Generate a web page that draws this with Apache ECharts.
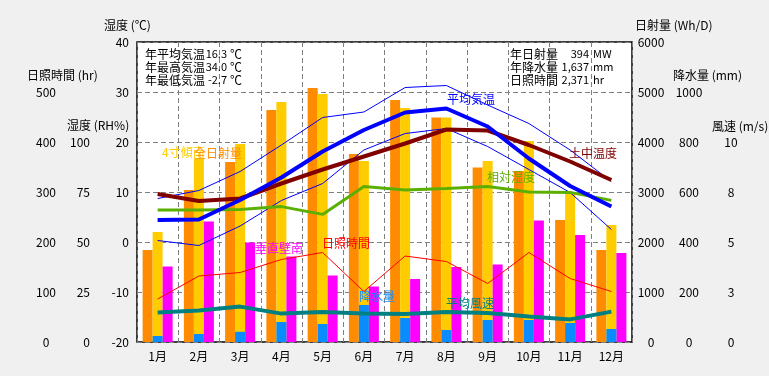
<!DOCTYPE html>
<html>
<head>
<meta charset="utf-8">
<script src="https://cdn.jsdelivr.net/npm/echarts@6/dist/echarts.min.js"></script>
<style>
  html, body { margin: 0; padding: 0; background: #f0f0f0; }
  #chart { width: 769px; height: 376px; }
</style>
</head>
<body>
<div id="chart"></div>
<script>
const months = ['1月', '2月', '3月', '4月', '5月', '6月', '7月', '8月', '9月', '10月', '11月', '12月'];

// Wh/D
const solarGlobal = [1840, 3040, 3600, 4640, 5080, 3760, 4840, 4490, 3490, 3420, 2440, 1840];
const solarTilt4 = [2200, 3670, 3960, 4800, 4960, 3620, 4680, 4490, 3620, 4020, 2990, 2340];
const solarWallSouth = [1510, 2410, 1990, 1710, 1330, 1110, 1260, 1500, 1550, 2430, 2140, 1780];
// mm
const precipitation = [24, 32, 41, 80, 72, 148, 96, 48, 88, 88, 76, 52];
// hr
const sunshineHours = [86, 132, 139, 165, 179, 101, 172, 161, 117, 179, 127, 101];
// m/s
const windSpeed = [1.48, 1.58, 1.77, 1.42, 1.5, 1.43, 1.4, 1.5, 1.45, 1.27, 1.13, 1.52];
// RH%
const humidity = [66, 66, 66.3, 67.7, 63.8, 77.7, 76, 76.7, 77.7, 75, 74.8, 70.8];
// ℃
const soilTemp = [9.6, 8.2, 8.7, 11.7, 14.5, 17.1, 19.7, 22.5, 22.3, 19.4, 16.1, 12.4];
const meanTemp = [4.4, 4.5, 8.4, 12.9, 18.1, 22.4, 25.9, 26.7, 23.1, 16.7, 11.2, 7.1];
const maxTemp = [8.7, 10.3, 14.1, 19.4, 24.9, 26.0, 30.9, 31.3, 27.4, 23.7, 18.4, 12.1];
const minTemp = [0.3, -0.7, 3.2, 8.3, 11.7, 18.4, 21.7, 22.7, 19.1, 14.5, 9.9, 2.5];

const FONT = '"Noto Sans CJK JP", "DejaVu Sans", sans-serif';

const chart = echarts.init(document.getElementById('chart'));

function yAx(opts) {
  return Object.assign({
    type: 'value',
    axisLine: { show: false },
    axisTick: { show: false },
    splitLine: { show: false },
  }, opts);
}
function lbl(extra) {
  return Object.assign({ color: '#000', fontSize: 12, fontFamily: FONT, showMinLabel: true, showMaxLabel: true }, extra);
}
function txt(text, x, y, color, align, size) {
  return {
    type: 'text', x: x, y: y, z: 100,
    style: { text: text, fill: color || '#000', font: (size || 12) + 'px ' + FONT, textAlign: align || 'left', textVerticalAlign: 'middle' },
  };
}
const upTo = max => v => v > max ? '' : String(v);

chart.setOption({
  animation: false,
  backgroundColor: '#f0f0f0',
  textStyle: { fontFamily: FONT },
  grid: {
    left: 137, right: 137, top: 42, bottom: 34,
    show: true, backgroundColor: '#fff', borderColor: '#000', borderWidth: 1.5,
    outerBoundsMode: 'none',
  },
  xAxis: [
    {
      type: 'category', data: months, boundaryGap: true,
      axisLine: { show: false }, axisTick: { show: false },
      axisLabel: lbl({ margin: 8 }),
      splitLine: { show: true, lineStyle: { color: '#808080', type: [5, 3], width: 1 } },
    },
    { type: 'category', data: months, show: false },
  ],
  yAxis: [
    yAx({ position: 'left', min: -20, max: 40, interval: 10,
      axisLabel: lbl({ margin: 8, formatter: upTo(40) }),
      splitLine: { show: true, lineStyle: { color: '#808080', type: [5, 3], width: 1 } } }),
    yAx({ position: 'left', offset: 39, min: 0, max: 150, interval: 25,
      axisLabel: lbl({ margin: 8, formatter: upTo(100) }) }),
    yAx({ position: 'left', offset: 72, min: 0, max: 600, interval: 100,
      axisLabel: lbl({ margin: 19, align: 'center', formatter: upTo(500) }) }),
    yAx({ position: 'right', min: 0, max: 6000, interval: 1000,
      axisLabel: lbl({ margin: 19, align: 'center', formatter: upTo(6000) }) }),
    yAx({ position: 'right', offset: 38, min: 0, max: 1200, interval: 200,
      axisLabel: lbl({ margin: 19, align: 'center', formatter: upTo(1000) }) }),
    yAx({ position: 'right', offset: 80, min: 0, max: 15, interval: 2.5,
      axisLabel: lbl({ margin: 19, align: 'center', formatter: v => v > 10 ? '' : String(Math.round(v)) }) }),
  ],
  series: [
    { name: '全日射量', type: 'bar', yAxisIndex: 3, data: solarGlobal, barWidth: 10, barGap: 0, itemStyle: { color: '#ff8c00' } },
    { name: '4寸傾南', type: 'bar', yAxisIndex: 3, data: solarTilt4, barWidth: 10, barGap: 0, itemStyle: { color: '#ffcc00' } },
    { name: '垂直壁南', type: 'bar', yAxisIndex: 3, data: solarWallSouth, barWidth: 10, barGap: 0, itemStyle: { color: '#ff00ff' } },
    { name: '降水量', type: 'bar', xAxisIndex: 1, yAxisIndex: 4, data: precipitation, barWidth: 10, itemStyle: { color: '#0a8cff' } },
    { name: '日照時間', type: 'line', yAxisIndex: 2, data: sunshineHours, showSymbol: false, lineStyle: { color: '#ff0000', width: 1 }, z: 5 },
    { name: '最高気温', type: 'line', yAxisIndex: 0, data: maxTemp, showSymbol: false, lineStyle: { color: '#0000ff', width: 1 }, z: 5 },
    { name: '最低気温', type: 'line', yAxisIndex: 0, data: minTemp, showSymbol: false, lineStyle: { color: '#0000ff', width: 1 }, z: 5 },
    { name: '相対湿度', type: 'line', yAxisIndex: 1, data: humidity, showSymbol: false, lineStyle: { color: '#5aaf00', width: 3 }, z: 6 },
    { name: '土中温度', type: 'line', yAxisIndex: 0, data: soilTemp, showSymbol: false, lineStyle: { color: '#800000', width: 4 }, z: 6 },
    { name: '平均気温', type: 'line', yAxisIndex: 0, data: meanTemp, showSymbol: false, lineStyle: { color: '#0000ff', width: 4 }, z: 7 },
    { name: '平均風速', type: 'line', yAxisIndex: 5, data: windSpeed, showSymbol: false, lineStyle: { color: '#008080', width: 4 }, z: 7 },
  ],
  graphic: [
    // axis titles
    txt('湿度 (℃)', 104, 25),
    txt('日照時間 (hr)', 27, 75),
    txt('湿度 (RH%)', 67, 125),
    txt('日射量 (Wh/D)', 635, 25),
    txt('降水量 (mm)', 673, 75),
    txt('風速 (m/s)', 712, 126),
    // annual summary
    txt('年平均気温', 145, 54), txt('16.3', 227, 54, '#000', 'right', 11), txt('℃', 230, 54),
    txt('年最高気温', 145, 67), txt('34.0', 227, 67, '#000', 'right', 11), txt('℃', 230, 67),
    txt('年最低気温', 145, 80), txt('-2.7', 227, 80, '#000', 'right', 11), txt('℃', 230, 80),
    txt('年日射量', 510, 54), txt('394', 589, 54, '#000', 'right', 11), txt('MW', 593, 54, '#000', 'left', 11),
    txt('年降水量', 510, 67), txt('1,637', 589, 67, '#000', 'right', 11), txt('mm', 593, 67, '#000', 'left', 11),
    txt('日照時間', 510, 80), txt('2,371', 589, 80, '#000', 'right', 11), txt('hr', 593, 80, '#000', 'left', 11),
    // series captions
    txt('4寸傾南', 162, 152, '#ffcc00'),
    txt('全日射量', 194, 153, '#ff8c00'),
    txt('平均気温', 447, 99, '#0000ff'),
    txt('土中温度', 569, 153, '#800000'),
    txt('相対湿度', 487, 177, '#5aaf00'),
    txt('垂直壁南', 255, 248, '#ff00ff'),
    txt('日照時間', 322, 243, '#ff0000'),
    txt('降水量', 359, 296, '#0a8cff'),
    txt('平均風速', 446, 303, '#008080'),
  ],
});
</script>
</body>
</html>
